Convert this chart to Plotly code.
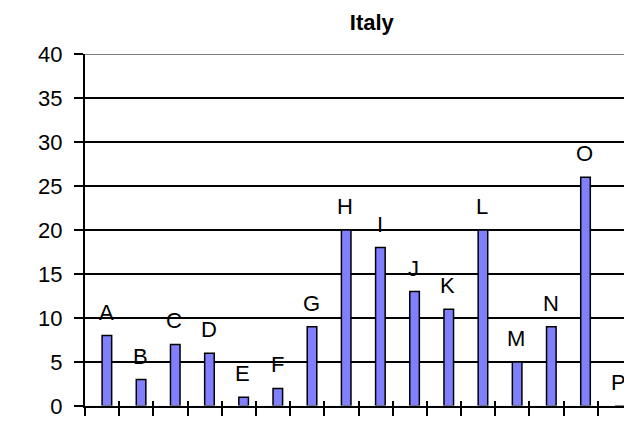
import plotly.graph_objects as go

categories = list("ABCDEFGHIJKLMNOP")
values = [8, 3, 7, 6, 1, 2, 9, 20, 18, 13, 11, 20, 5, 9, 26, 0]
y_ticks = [0, 5, 10, 15, 20, 25, 30, 35, 40]

FONT = "Liberation Sans, Arial, sans-serif"
FS = 22

fig = go.Figure()
fig.add_trace(go.Bar(
    x=categories, y=values,
    width=0.28, offset=0.0,
    marker=dict(color="#8080FF", line=dict(color="black", width=1.5)),
    hoverinfo="skip",
))
# second overlaid axis for the 'cross' tick marks (inner part)
fig.add_trace(go.Bar(x=categories, y=[0]*len(categories), xaxis="x2",
                     marker=dict(color="rgba(0,0,0,0)"), hoverinfo="skip",
                     showlegend=False))

for c, v in zip(categories, values):
    fig.add_annotation(x=c, y=v, text=c, showarrow=False, xref="x", yref="y",
                       yanchor="bottom", yshift=9, xshift=4,
                       font=dict(family=FONT, size=FS, color="black"))

fig.add_shape(type="line", xref="paper", yref="y", x0=0, x1=1, y0=40, y1=40,
              line=dict(color="#808080", width=2), layer="above")

# page body has an 8px margin: figure is 624x416 placed at (8,8)
fig.update_layout(
    width=624, height=416,
    margin=dict(l=77, r=0, t=46, b=18),
    paper_bgcolor="white", plot_bgcolor="white",
    showlegend=False, barmode="overlay",
    title=dict(text="<b>Italy</b>", x=0.583, xanchor="center", y=0.966,
               yanchor="middle", font=dict(family=FONT, size=FS, color="black")),
    font=dict(family=FONT, size=FS, color="black"),
    xaxis=dict(type="category", categoryorder="array", categoryarray=categories,
               showticklabels=False, tickson="boundaries", ticks="outside",
               ticklen=8, tickwidth=2, tickcolor="black",
               showline=True, linecolor="black", linewidth=2,
               showgrid=False, zeroline=False, range=[-0.5, 15.5]),
    xaxis2=dict(type="category", categoryorder="array", categoryarray=categories,
                overlaying="x", anchor="y", side="bottom",
                showticklabels=False, tickson="boundaries", ticks="inside",
                ticklen=5, tickwidth=2, tickcolor="black", showline=False,
                showgrid=False, zeroline=False, range=[-0.5, 15.5]),
    yaxis=dict(range=[0, 40], tickvals=y_ticks, ticks="outside", ticklen=9,
               tickwidth=2, tickcolor="black", showline=True, linecolor="black",
               linewidth=2, showgrid=True, gridcolor="black", gridwidth=2,
               zeroline=False, ticklabelstandoff=7, ticklabeloverflow="allow",
               tickfont=dict(family=FONT, size=FS, color="black")),
)

fig.write_html("out.html")
